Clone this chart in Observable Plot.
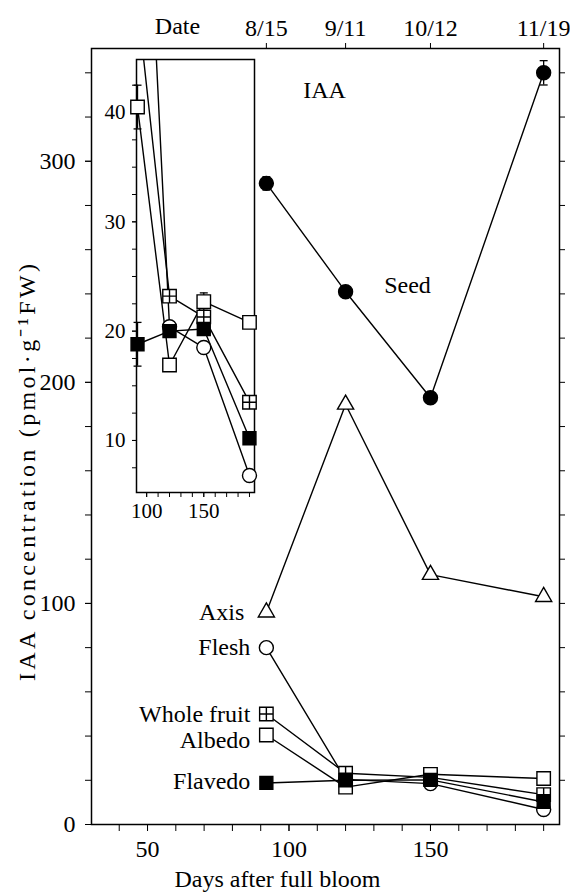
<!DOCTYPE html>
<html><head><meta charset="utf-8">
<script src="https://cdn.jsdelivr.net/npm/d3@7"></script>
<script src="https://cdn.jsdelivr.net/npm/@observablehq/plot@0.6"></script>
<style>
body{margin:0;background:#fff;}
#wrap{position:relative;width:570px;height:893px;}
#inset{position:absolute;left:96px;top:50px;}
</style></head><body><div id="wrap"><div id="main"></div><div id="inset"></div></div>
<script>
// ---- data ----
const days = [92, 120, 150, 190];
const dateLabels = ["8/15", "9/11", "10/12", "11/19"];
const seriesNames = ["Seed", "Axis", "Flesh", "Whole fruit", "Albedo", "Flavedo"];
const seed = [290, 241, 193, 340];
const axisPart = [96, 190, 113, 103];
const flesh = [80, 20.4, 18.5, 6.8];
const wholeFruit = [50, 23.2, 21.3, 13.5];
const albedo = [40.5, 16.9, 22.7, 20.8];
const flavedo = [18.8, 20.0, 20.2, 10.2];
const seedErr = [3, 0, 0, 5.5];
const albedoErr = [2, 0, 0.8, 0];
const flavedoErr = [2, 0, 0, 0];
const mainYTicks = [0, 100, 200, 300];
const mainXTicks = [50, 100, 150];
const insetYTicks = [10, 20, 30, 40];
const insetXTicks = [100, 150];
const yTitle = "IAA concentration (pmol·g⁻¹FW)";
const xTitle = "Days after full bloom";

const seriesValues = [seed, axisPart, flesh, wholeFruit, albedo, flavedo];
const seriesErrors = [seedErr, null, null, null, albedoErr, flavedoErr];
const rows = seriesNames.flatMap((name, k) => days.map((d, i) => ({
  series: name, day: d, value: seriesValues[k][i],
  err: seriesErrors[k] ? seriesErrors[k][i] : 0
})));
const errRows = rows.filter(d => d.err > 0);

// ---- symbols ----
const squarePlus = {draw(ctx, size) {
  const s = Math.sqrt(size) / 2;
  ctx.moveTo(-s, -s); ctx.lineTo(s, -s); ctx.lineTo(s, s); ctx.lineTo(-s, s); ctx.closePath();
  ctx.moveTo(0, -s); ctx.lineTo(0, s); ctx.moveTo(-s, 0); ctx.lineTo(s, 0);
}};
const cap = {draw(ctx, size) {
  const s = Math.sqrt(size) / 2;
  ctx.moveTo(-s, 0); ctx.lineTo(s, 0);
}};
const styles = {
  "Seed": {symbol: "circle", fill: "black", r: 7},
  "Axis": {symbol: "triangle", fill: "white", r: 6},
  "Flesh": {symbol: "circle", fill: "white", r: 7},
  "Whole fruit": {symbol: squarePlus, fill: "white", r: 7.6},
  "Albedo": {symbol: "square", fill: "white", r: 7.6},
  "Flavedo": {symbol: "square", fill: "black", r: 7.3}
};
const font = "'Liberation Serif', 'Times New Roman', serif";

function seriesMarks(names, filter) {
  return names.map(name => Plot.dot(rows, {
    filter: d => d.series === name && filter(d),
    x: "day", y: "value", symbol: styles[name].symbol, r: styles[name].r,
    fill: styles[name].fill, stroke: "black", strokeWidth: 1.4
  }));
}
function errMarks(filter) {
  const e = errRows.filter(filter);
  return [
    Plot.ruleX(e, {x: "day", y1: d => d.value - d.err, y2: d => d.value + d.err, stroke: "black", strokeWidth: 1.3}),
    Plot.dot(e, {x: "day", y: d => d.value + d.err, symbol: cap, r: 4.5, stroke: "black", strokeWidth: 1.3}),
    Plot.dot(e, {x: "day", y: d => d.value - d.err, symbol: cap, r: 4.5, stroke: "black", strokeWidth: 1.3})
  ];
}

// ---- main chart ----
const main = Plot.plot({
  width: 570, height: 893,
  marginLeft: 91, marginRight: 11, marginTop: 48, marginBottom: 69,
  style: {fontFamily: font, fontSize: "24px", background: "white", color: "black"},
  x: {domain: [30.2, 195.6]},
  y: {domain: [0, 351]},
  marks: [
    Plot.frame({stroke: "black", strokeWidth: 1.5}),
    Plot.axisY({ticks: d3.range(0, 341, 20), tickSize: 6, tickFormat: () => "", label: null}),
    Plot.axisY({ticks: mainYTicks, tickSize: 6, tickPadding: 10, fontSize: 24, label: null}),
    Plot.axisY({anchor: "right", ticks: d3.range(20, 341, 20), tickSize: 5, tickFormat: () => "", label: null}),
    Plot.axisX({ticks: d3.range(40, 191, 10), tickSize: 7, tickFormat: () => "", label: null}),
    Plot.axisX({ticks: mainXTicks, tickSize: 7, tickPadding: 8, fontSize: 24, label: null}),
    Plot.axisX({anchor: "top", ticks: days, tickSize: 6, tickPadding: 7, fontSize: 24,
      tickFormat: d => dateLabels[days.indexOf(d)], label: null}),
    Plot.text([yTitle], {frameAnchor: "left", textAnchor: "middle", lineAnchor: "middle", rotate: -90, dx: -64, dy: 36, fontSize: 24}),
    Plot.text([xTitle], {frameAnchor: "bottom-left", textAnchor: "middle", lineAnchor: "middle", dx: 186, dy: 55, fontSize: 24}),
    Plot.text(["Date"], {frameAnchor: "top-left", textAnchor: "middle", lineAnchor: "middle", dx: 86, dy: -22, fontSize: 24}),
    Plot.text(["IAA"], {frameAnchor: "top-left", textAnchor: "middle", lineAnchor: "middle", dx: 233, dy: 42, fontSize: 24}),
    Plot.text(["Seed"], {frameAnchor: "top-left", textAnchor: "middle", lineAnchor: "middle", dx: 316, dy: 237, fontSize: 24}),
    Plot.line(rows, {x: "day", y: "value", z: "series", stroke: "black", strokeWidth: 1.4}),
    ...errMarks(() => true),
    ...seriesMarks(seriesNames, () => true),
    Plot.text(rows, {filter: d => d.day === days[0] && d.series === "Axis", x: "day", y: "value", text: "series", textAnchor: "end", lineAnchor: "middle", dx: -22, fontSize: 24}),
    Plot.text(rows, {filter: d => d.day === days[0] && (d.series === "Flesh" || d.series === "Whole fruit"), x: "day", y: "value", text: "series", textAnchor: "end", lineAnchor: "middle", dx: -16, fontSize: 24}),
    Plot.text(rows, {filter: d => d.day === days[0] && d.series === "Albedo", x: "day", y: "value", text: "series", textAnchor: "end", lineAnchor: "middle", dx: -16, dy: 5, fontSize: 24}),
    Plot.text(rows, {filter: d => d.day === days[0] && d.series === "Flavedo", x: "day", y: "value", text: "series", textAnchor: "end", lineAnchor: "middle", dx: -16, dy: -2, fontSize: 24})
  ]
});
document.getElementById("main").appendChild(main);
d3.select(main).selectAll("text").filter(function() { return this.textContent === yTitle; })
  .attr("textLength", 417).attr("lengthAdjust", "spacing");

// ---- inset ----
const insetNames = ["Flesh", "Whole fruit", "Albedo", "Flavedo"];
const yMaxInset = 44.85;
const inset = Plot.plot({
  width: 164, height: 480,
  marginLeft: 40, marginRight: 6, marginTop: 9, marginBottom: 38,
  style: {fontFamily: font, fontSize: "21px", background: "transparent", color: "black"},
  x: {domain: [91.1, 194.4]},
  y: {domain: [5.24, yMaxInset]},
  marks: [
    Plot.frame({stroke: "black", strokeWidth: 1.5}),
    Plot.axisY({ticks: d3.range(7.5, 43, 2.5), tickSize: 4, tickFormat: () => "", label: null}),
    Plot.axisY({ticks: insetYTicks, tickSize: 4, tickPadding: 7, fontSize: 21, label: null}),
    Plot.axisX({ticks: d3.range(100, 191, 10), tickSize: 5, tickFormat: () => "", label: null}),
    Plot.axisX({ticks: insetXTicks, tickSize: 5, tickPadding: 6, fontSize: 21, label: null}),
    Plot.line(rows, {filter: d => insetNames.includes(d.series), x: "day", y: "value", z: "series", stroke: "black", strokeWidth: 1.4, clip: true}),
    ...errMarks(d => insetNames.includes(d.series)),
    ...seriesMarks(insetNames, d => d.value <= yMaxInset)
  ]
});
document.getElementById("inset").appendChild(inset);
</script></body></html>
